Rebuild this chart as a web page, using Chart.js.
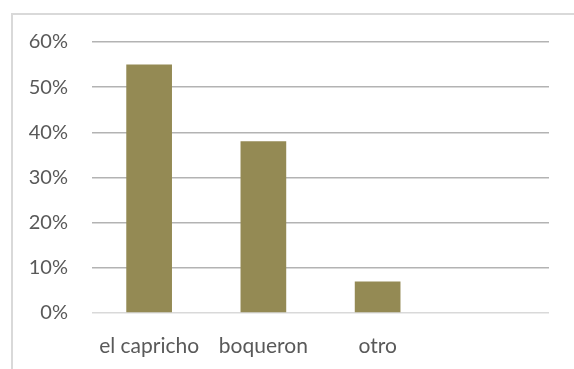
<!DOCTYPE html>
<html>
<head>
<meta charset="utf-8">
<script src="https://cdn.jsdelivr.net/npm/chart.js@4/dist/chart.umd.min.js"></script>
<style>
  html, body { margin: 0; padding: 0; background: #fff; }
  #marco {
    position: absolute; left: 11px; top: 13px; right: 0; bottom: 0;
    border-left: 2px solid #d9d9d9; border-top: 2px solid #d9d9d9;
  }
  #lienzo { position: absolute; left: 0; top: 0; width: 574px; height: 369px; }
</style>
</head>
<body>
<div id="marco"></div>
<div id="lienzo"><canvas id="grafica"></canvas></div>
<script>
// ========== DATOS ==========
const categorias = ['el capricho', 'boqueron', 'otro', ''];
const porcentajes = [55, 38, 7, null];
const ticksY = [0, 10, 20, 30, 40, 50, 60];

const colorBarra = '#948a54';
const colorTexto = '#595959';

// ========== CREAR GRÁFICA ==========
function crearGrafica() {
  const ctx = document.getElementById('grafica');

  new Chart(ctx, {
    type: 'bar',
    data: {
      labels: categorias,
      datasets: [{
        data: porcentajes,
        backgroundColor: colorBarra,
        borderWidth: 0,
        categoryPercentage: 1,
        barPercentage: 0.4
      }]
    },
    options: {
      responsive: true,
      maintainAspectRatio: false,
      animation: false,
      layout: { padding: { top: 42, right: 25, left: 0, bottom: 0 } },
      plugins: {
        legend: { display: false },
        tooltip: { enabled: false }
      },
      scales: {
        x: {
          grid: { display: false },
          border: { display: false },
          ticks: {
            color: colorTexto,
            font: { family: 'Lato', size: 21 },
            padding: 13,
            maxRotation: 0
          },
          afterFit: (escala) => { escala.height = 56; }
        },
        y: {
          min: ticksY[0],
          max: ticksY[ticksY.length - 1],
          afterBuildTicks: (escala) => {
            escala.ticks = ticksY.map(v => ({ value: v }));
          },
          grid: {
            drawTicks: false,
            lineWidth: 1.5,
            color: (c) => c.index === 0 ? '#d9d9d9' : '#b3b3b3'
          },
          border: { display: false },
          ticks: {
            color: colorTexto,
            font: { family: 'Lato', size: 20 },
            padding: 24,
            callback: (v) => v + '%'
          },
          afterFit: (escala) => { escala.width = 92; }
        }
      }
    }
  });
}

document.addEventListener('DOMContentLoaded', crearGrafica);
</script>
</body>
</html>
